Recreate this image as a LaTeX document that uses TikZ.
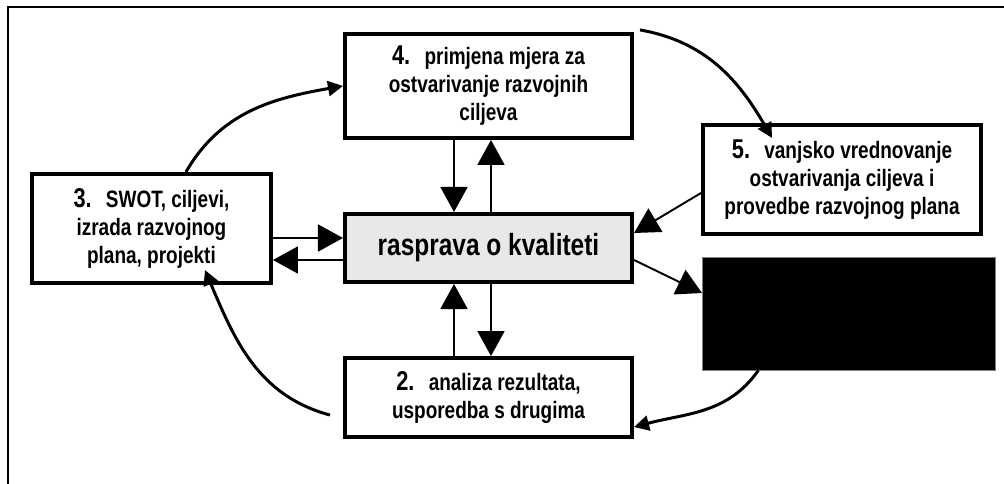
\documentclass[tikz,border=0pt]{standalone}
\usepackage{fontspec}
\setmainfont[FakeStretch=0.8]{Liberation Sans}
\usetikzlibrary{positioning, arrows.meta}
\tikzstyle{stage} = [rectangle, draw=black, line width=2.3pt, align=center, font=\bfseries\fontsize{13.5}{15.9}\selectfont, minimum width=5.74cm, inner sep=2pt]
\tikzstyle{hub} = [stage, fill=gray!18, font=\bfseries\fontsize{17.4}{19}\selectfont, minimum height=1.36cm]
\tikzstyle{arrow} = [line width=1.1pt, -{Triangle[width=0.54cm, length=0.5cm]}]
\tikzstyle{loop} = [line width=1.7pt, -{Triangle[width=0.3cm, length=0.3cm]}]
\newcommand{\stepnum}[1]{{\fontsize{15.5}{16}\selectfont #1}\hspace{0.6em}}

\begin{document}
\begin{tikzpicture}
\useasboundingbox (0,0) rectangle (20.08,-9.68);
% outer frame, cut off at right and bottom
\draw [line width=1.1pt] (0.16,-10) -- (0.16,-0.14) -- (20.5,-0.14);

\node (hub) [hub] at (9.77,-4.96) {rasprava o kvaliteti};
\node (prim) [stage, minimum height=2.08cm, above=1.44cm of hub] {\stepnum{4.}primjena mjera za\\ostvarivanje razvojnih\\ciljeva};
\node (analiza) [stage, minimum height=1.58cm, below=1.44cm of hub] {\stepnum{2.}analiza rezultata,\\usporedba s drugima};
\node (swot) [stage, minimum width=4.78cm, minimum height=2.18cm, left=1.4cm of hub, yshift=0.39cm] {\stepnum{3.}SWOT, ciljevi,\\izrada razvojnog\\plana, projekti};
\node (vanjsko) [stage, minimum width=5.56cm, minimum height=2.18cm, right=1.34cm of hub, yshift=1.37cm] {\stepnum{5.}vanjsko vrednovanje\\ostvarivanja ciljeva i\\provedbe razvojnog plana};
\node (crno) [rectangle, fill=black, draw=gray, line width=0.4pt, minimum width=5.86cm, minimum height=2.26cm, right=1.36cm of hub, yshift=-1.31cm] {};

% straight arrows round the hub
\draw [arrow] ([xshift=-0.69cm]prim.south) -- ([xshift=-0.69cm]hub.north);
\draw [arrow] ([xshift=0.05cm]hub.north) -- ([xshift=0.05cm]prim.south);
\draw [arrow] ([xshift=-0.69cm]analiza.north) -- ([xshift=-0.69cm]hub.south);
\draw [arrow] ([xshift=0.05cm]hub.south) -- ([xshift=0.05cm]analiza.north);
\draw [arrow] ([yshift=-0.19cm]swot.east) -- ([yshift=0.2cm]hub.west);
\draw [arrow] ([yshift=-0.24cm]hub.west) -- ([yshift=-0.63cm]swot.east);
\draw [arrow] ([yshift=-0.27cm]vanjsko.west) -- ([yshift=0.3cm]hub.east);
\draw [arrow] ([yshift=-0.24cm]hub.east) -- ([yshift=0.41cm]crno.west);

% the cycle
\draw [loop] ([xshift=0.69cm]swot.north) to[out=60, in=190] (prim.west);
\draw [loop] ([xshift=0.12cm, yshift=0.04cm]prim.north east) to[out=-10, in=120] ([xshift=-1.4cm, yshift=-0.3cm]vanjsko.north);
\draw [loop] ([xshift=-1.81cm]crno.south) to[out=235, in=15] ([yshift=-0.59cm]analiza.east);
\draw [loop] ([xshift=-0.26cm, yshift=-0.35cm]analiza.west) to[out=165, in=-67] ([xshift=1.07cm, yshift=0.3cm]swot.south);
\end{tikzpicture}
\end{document}
